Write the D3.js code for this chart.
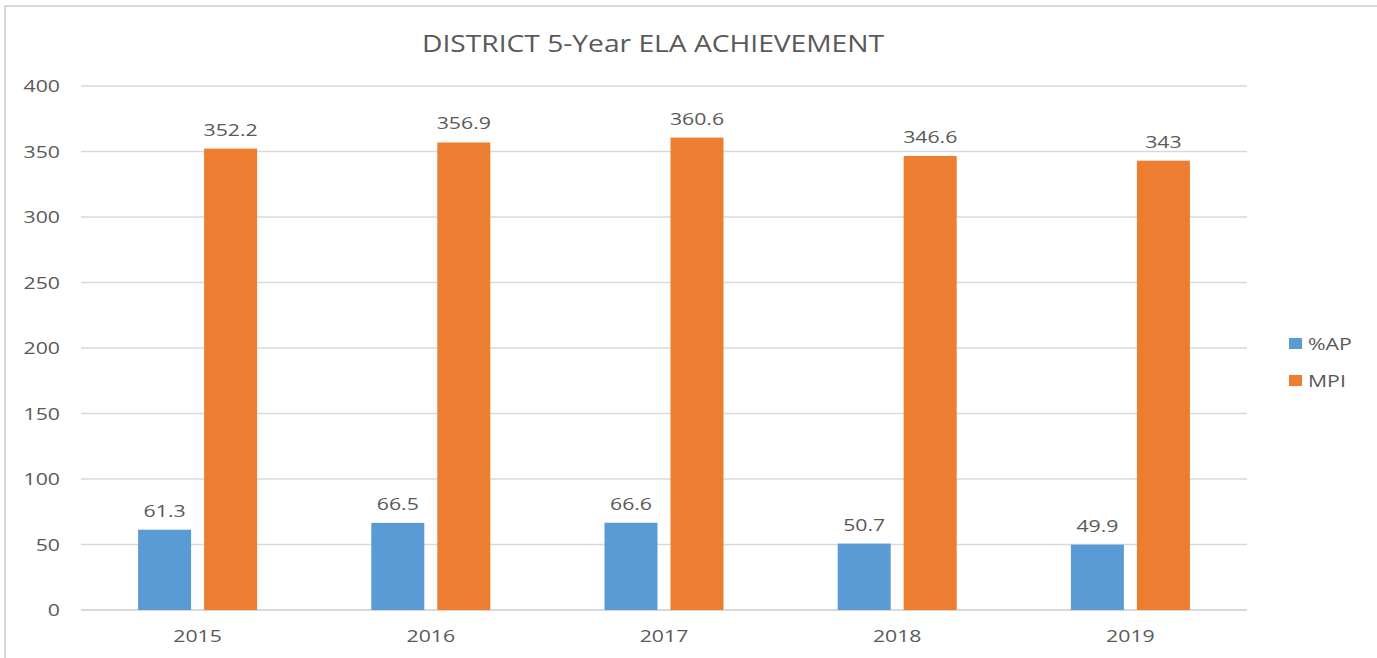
<!DOCTYPE html>
<html>
<head>
<meta charset="utf-8">
<script src="https://cdn.jsdelivr.net/npm/d3@7"></script>
<style>
	body { margin: 0; background: #fff; }
	svg text { font-family: "Open Sans", sans-serif; fill: #595959; }
</style>
</head>
<body>
<div id="chart"></div>
<script>
// Data
var years = ["2015", "2016", "2017", "2018", "2019"];
var seriesNames = ["%AP", "MPI"];
var apValues = [61.3, 66.5, 66.6, 50.7, 49.9];
var mpiValues = [352.2, 356.9, 360.6, 346.6, 343];
var yTicks = [0, 50, 100, 150, 200, 250, 300, 350, 400];
var colors = ["#5b9bd5", "#ed7d31"];

var width = 1377, height = 658;
var stretch = 1.25; // text in the picture is wider than normal

var svg = d3.select("#chart").append("svg")
	.attr("width", width)
	.attr("height", height);

// Outer chart border (runs off the right/bottom edge)
svg.append("rect")
	.attr("x", 5)
	.attr("y", 6)
	.attr("width", width + 20)
	.attr("height", height + 20)
	.attr("fill", "none")
	.attr("stroke", "#d9d9d9")
	.attr("stroke-width", 2);

var plot = { left: 81, right: 1247, top: 86, bottom: 610 };

var x0 = d3.scaleBand()
	.domain(years)
	.range([plot.left, plot.right]);

var groupW = 119;
var x1 = d3.scaleBand()
	.domain(seriesNames)
	.range([x0.bandwidth() / 2 - groupW / 2, x0.bandwidth() / 2 + groupW / 2])
	.paddingInner(0.197);

var y = d3.scaleLinear()
	.domain([0, 400])
	.range([plot.bottom, plot.top]);

function stretchedText(sel, x, yPos, s) {
	return sel.attr("transform", "translate(" + x + "," + yPos + ") scale(" + (s || stretch) + ",1)");
}

// Title
stretchedText(svg.append("text"), 653, 52, 1.2)
	.attr("text-anchor", "middle")
	.style("font-size", "23.5px")
	.text("DISTRICT 5-Year ELA ACHIEVEMENT");

// Gridlines
svg.append("g")
	.selectAll("line")
	.data(yTicks)
	.join("line")
	.attr("x1", plot.left)
	.attr("x2", plot.right)
	.attr("y1", function(d) { return y(d); })
	.attr("y2", function(d) { return y(d); })
	.attr("stroke", "#d9d9d9")
	.attr("stroke-width", function(d) { return d === 0 ? 2 : 1.5; });

// Y tick labels
svg.append("g")
	.selectAll("text")
	.data(yTicks)
	.join("text")
	.each(function(d) { stretchedText(d3.select(this), 60, y(d) + 6); })
	.attr("text-anchor", "end")
	.style("font-size", "17px")
	.text(function(d) { return d; });

// X labels
svg.append("g")
	.selectAll("text")
	.data(years)
	.join("text")
	.each(function(d) { stretchedText(d3.select(this), x0(d) + x0.bandwidth() / 2, 642); })
	.attr("text-anchor", "middle")
	.style("font-size", "17px")
	.text(function(d) { return d; });

// Bars
var rows = years.map(function(yr, i) {
	return { year: yr, values: [
		{ key: seriesNames[0], value: apValues[i], color: colors[0] },
		{ key: seriesNames[1], value: mpiValues[i], color: colors[1] }
	] };
});

var groups = svg.append("g")
	.selectAll("g")
	.data(rows)
	.join("g")
	.attr("transform", function(d) { return "translate(" + x0(d.year) + ",0)"; });

groups.selectAll("rect")
	.data(function(d) { return d.values; })
	.join("rect")
	.attr("x", function(d) { return x1(d.key); })
	.attr("y", function(d) { return y(d.value); })
	.attr("width", x1.bandwidth())
	.attr("height", function(d) { return y(0) - y(d.value); })
	.attr("fill", function(d) { return d.color; });

// Value labels
groups.selectAll("text")
	.data(function(d) { return d.values; })
	.join("text")
	.each(function(d) { stretchedText(d3.select(this), x1(d.key) + x1.bandwidth() / 2, y(d.value) - 13); })
	.attr("text-anchor", "middle")
	.style("font-size", "17px")
	.text(function(d) { return d.value; });

// Legend
var legend = svg.append("g")
	.selectAll("g")
	.data(seriesNames)
	.join("g")
	.attr("transform", function(d, i) { return "translate(1289," + (338 + i * 37) + ")"; });

legend.append("rect")
	.attr("width", 13)
	.attr("height", 11)
	.attr("fill", function(d, i) { return colors[i]; });

legend.append("text")
	.each(function(d) { stretchedText(d3.select(this), 19, 12); })
	.style("font-size", "17px")
	.text(function(d) { return d; });
</script>
</body>
</html>
